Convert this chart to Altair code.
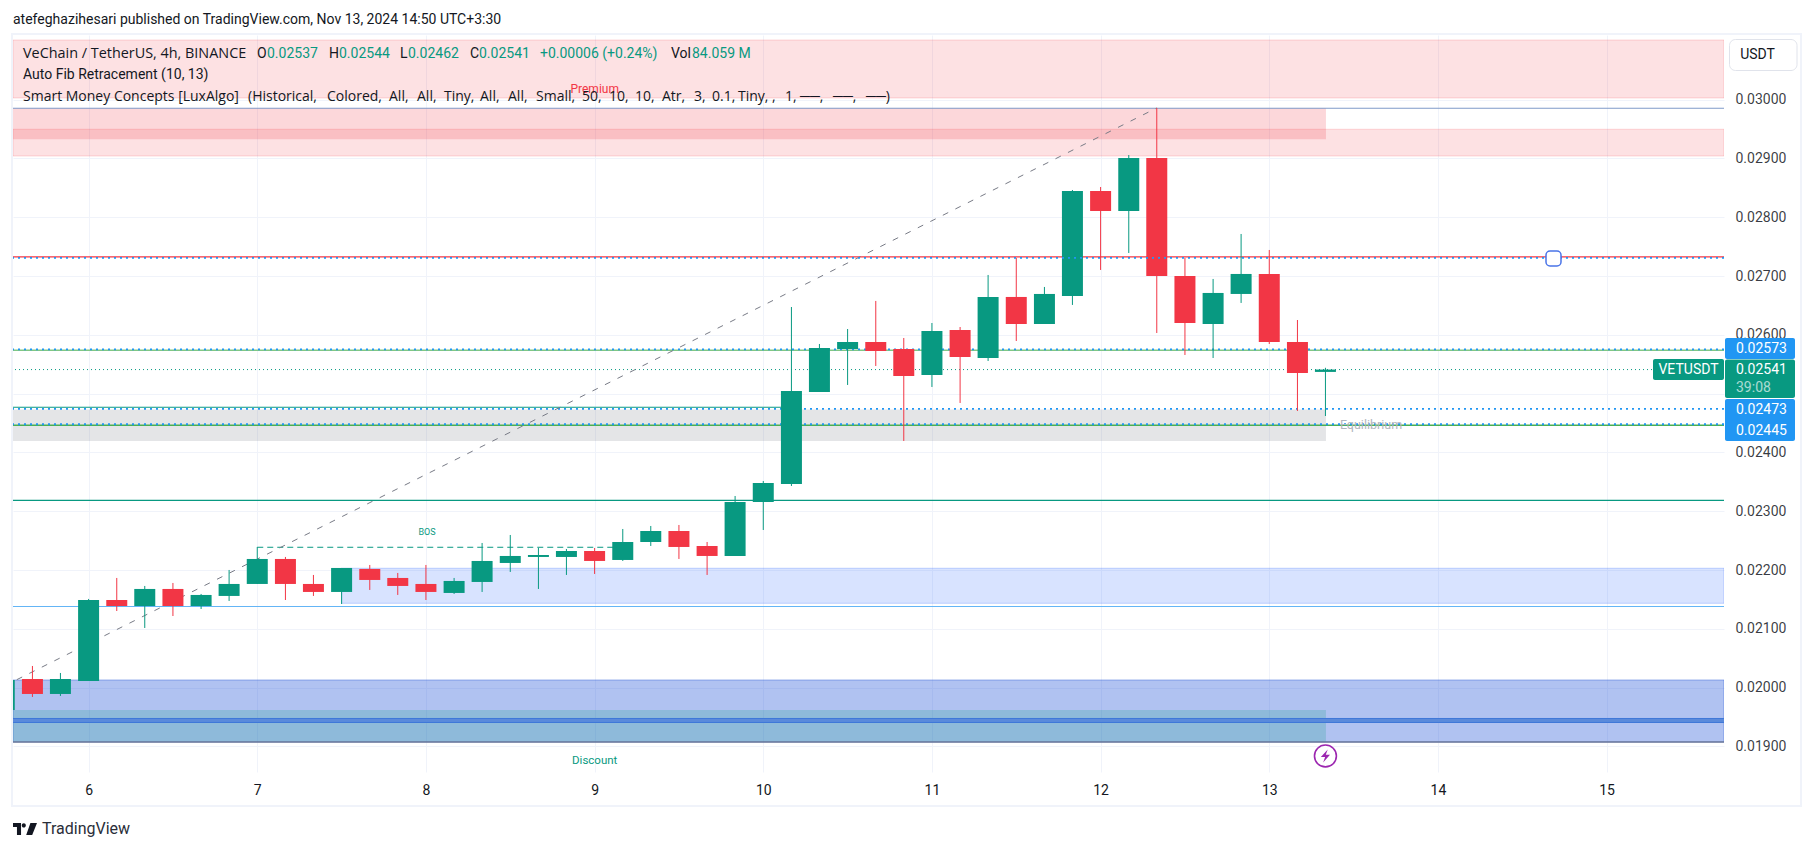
import altair as alt
import pandas as pd

times = [5.5,5.667,5.833,6.0,6.167,6.333,6.5,6.667,6.833,7.0,7.167,7.333,7.5,7.667,7.833,8.0,8.167,8.333,8.5,8.667,8.833,9.0,9.167,9.333,9.5,9.667,9.833,10.0,10.167,10.333,10.5,10.667,10.833,11.0,11.167,11.333,11.5,11.667,11.833,12.0,12.167,12.333,12.5,12.667,12.833,13.0,13.167,13.333]
opens = [.019621,.020148,.019893,.020114,.021491,.021389,.021679,.021389,.02156,.021764,.022189,.021764,.021628,.022019,.021866,.021764,.021611,.021798,.022121,.022223,.022223,.022325,.022172,.022478,.022665,.02241,.02224,.023158,.023464,.025029,.02576,.025879,.02576,.025318,.026083,.025607,.026645,.026185,.026662,.028447,.028107,.029008,.027002,.026185,.026696,.027036,.025879,.02537]
highs = [.020131,.020369,.02025,.021509,.021866,.02173,.021781,.021594,.022002,.022393,.022223,.021917,.022036,.022087,.021951,.022087,.021866,.022461,.022597,.022376,.022359,.022376,.022699,.02275,.022767,.022478,.02326,.023515,.026474,.025845,.0261,.026577,.025947,.026202,.026134,.027019,.027308,.026815,.028464,.028515,.029059,.029859,.027308,.026951,.027716,.027444,.026253,.02544]
lows = [.019621,.019842,.019859,.020114,.021304,.021015,.021219,.021338,.021475,.021764,.021491,.02156,.021423,.021662,.021577,.021491,.021594,.021628,.021968,.021679,.021917,.021934,.022155,.02241,.022189,.021917,.02224,.022682,.02343,.025029,.025148,.025471,.024196,.025114,.024842,.025556,.025896,.026185,.026509,.027104,.027393,.026032,.025658,.025607,.026543,.025845,.024706,.02462]
closes = [.020131,.019893,.020148,.021491,.021389,.021679,.021389,.021577,.021764,.022189,.021764,.021628,.022036,.021832,.02173,.021628,.021815,.022155,.02224,.022257,.022325,.022155,.022478,.022665,.022393,.02224,.023158,.023481,.025046,.025777,.025879,.025726,.025301,.026066,.025624,.026645,.026185,.026696,.028447,.028107,.029008,.027002,.026202,.026713,.027036,.025879,.025352,.02541]

GREEN = "#089981"; RED = "#F23645"; BLUE = "#2196F3"; INK = "#131722"
FONT = "Roboto"; LEGEND_FONT = "Open Sans"
X_MIN, X_MAX = 5.5518, 15.696
Y_MIN, Y_MAX = 0.018566, 0.0311
day_ticks = [6,7,8,9,10,11,12,13,14,15]
price_ticks = [.019,.02,.021,.022,.023,.024,.025,.026,.027,.028,.029,.03]

# box zones: x0, x1, y0, y1, colour, fill opacity, edge opacity
zones = [
    (X_MIN, X_MAX, .030029, .031015, RED, .15, .18),
    (X_MIN, X_MAX, .029042, .029497, RED, .15, .18),
    (X_MIN, 13.336, .029326, .029859, RED, .2, 0),
    (X_MIN, 13.336, .024196, .02473, "#787B86", .2, 0),
    (7.5, X_MAX, .021435, .022031, "#2962FF", .18, .25),
    (X_MIN, X_MAX, .019077, .020131, "#1E50D8", .35, .4),
    (X_MIN, 13.336, .019077, .019621, GREEN, .2, 0),
]
# full-width solid levels: price, colour, width
levels = [(.029854,"#7F9AC9",1.2),(.027325,RED,1.2),(.025738,"#81C784",1.5),(.024463,"#4CAF50",1.5),
          (.023187,GREEN,1.2),(.021381,"#64B5F6",1.2),(.019442,"#5A8ADB",4),(.019476,"#3F78D8",1),(.019408,"#3F78D8",1),(.019077,"#6E7A9A",1.5)]
dotted_under = [.025755,.02474,.02448]
dotted_over = [.027308]
last_close = .02541

# legend line 3: tokens and their left edges in the picture
indicator_args = ["(Historical,","Colored,","All,","All,","Tiny,","All,","All,","Small,","50,","10,","10,","Atr,","3,","0.1,","Tiny,",",","1,","──,","──,","──)"]
indicator_args_x = [248,327,389,417,444,480,508,536,582,609,635,662,694,712,738,772,785,800,833,866]

xs = alt.Scale(domain=[X_MIN,X_MAX], nice=False, zero=False, padding=0)
ys = alt.Scale(domain=[Y_MIN,Y_MAX], nice=False, zero=False, padding=0)
xaxis = alt.Axis(values=day_ticks, format="d", grid=True, gridColor="#F0F3FA", title=None,
        domain=False, ticks=False, labelFont=FONT, labelFontSize=14, labelColor=INK, labelPadding=11, labelFlush=False)
yaxis = alt.Axis(orient="right", values=price_ticks, format=".5f", grid=True, gridColor="#F0F3FA", title=None,
        domain=False, ticks=False, labelFont=FONT, labelFontSize=14, labelColor=INK, labelOpacity=.85, labelPadding=11, labelFlush=False)
X = lambda f="x": alt.X(f"{f}:Q", scale=xs, axis=xaxis)
Y = lambda f="y": alt.Y(f"{f}:Q", scale=ys, axis=yaxis)
one = alt.Data(values=[{"a":1}])
PX = lambda v: alt.value(v-13)
PY = lambda v: alt.value(v-35)

def txt(s, x, y, color=INK, size=14, align="left", weight=400, opacity=1.0, font=FONT):
    return alt.Chart(one).mark_text(text=s, font=font, fontSize=size, color=color, align=align,
        baseline="middle", fontWeight=weight, opacity=opacity).encode(x=PX(x), y=PY(y))

def box(x0, x1, y0, y1, fill, **kw):
    return alt.Chart(one).mark_rect(fill=fill, **kw).encode(x=PX(x0), x2=PX(x1), y=PY(y0), y2=PY(y1))

layers = []
# frame
layers += [box(11,1802,33,35,"#F0F3FA"), box(11,1802,805,807,"#F0F3FA"), box(11,13,33,807,"#F0F3FA"), box(1800,1802,33,807,"#F0F3FA")]
# zones
zdf = pd.DataFrame(zones, columns=["x","x2","y","y2","c","o","e"])
layers.append(alt.Chart(zdf).mark_rect(clip=True, strokeWidth=1).encode(
    x=X("x"), x2="x2:Q", y=Y("y"), y2="y2:Q",
    fill=alt.Fill("c:N", scale=None), stroke=alt.Stroke("c:N", scale=None),
    fillOpacity=alt.FillOpacity("o:Q", scale=None), strokeOpacity=alt.StrokeOpacity("e:Q", scale=None)))
# levels
for p,c,w in levels:
    layers.append(alt.Chart(pd.DataFrame({"y":[p]})).mark_rule(color=c, strokeWidth=w).encode(y=Y()))
# dotted under candles
for p in dotted_under:
    layers.append(alt.Chart(pd.DataFrame({"y":[p]})).mark_rule(color=BLUE, strokeWidth=1.8, strokeDash=[2,4]).encode(y=Y()))
# last price dotted
layers.append(alt.Chart(pd.DataFrame({"y":[last_close]})).mark_rule(color=GREEN, strokeWidth=1, strokeDash=[1,3]).encode(y=Y()))
# CHoCH line, BOS line, fib line
layers.append(alt.Chart(pd.DataFrame({"x":[X_MIN],"x2":[10.167],"y":[.024769]})).mark_rule(color=GREEN, strokeWidth=1.2).encode(x=X(), x2="x2:Q", y=Y()))
layers.append(alt.Chart(pd.DataFrame({"x":[7.0],"x2":[9.167],"y":[.022388]})).mark_rule(color=GREEN, strokeWidth=1, strokeDash=[6,4]).encode(x=X(), x2="x2:Q", y=Y()))
layers.append(alt.Chart(pd.DataFrame({"x":[5.5,12.333],"y":[.020029,.029859]})).mark_line(color="#787B86", strokeWidth=1, strokeDash=[6,8], clip=True).encode(x=X(), y=Y()))
# candles
candles = pd.DataFrame({"x":times,"o":opens,"h":highs,"l":lows,"c":closes})
candles["col"] = [GREEN if c>=o else RED for o,c in zip(opens,closes)]
layers.append(alt.Chart(candles).mark_rule(strokeWidth=1, clip=True).encode(x=X(), y=Y("l"), y2="h:Q", color=alt.Color("col:N", scale=None)))
layers.append(alt.Chart(candles).mark_bar(size=21, clip=True).encode(x=X(), y=Y("o"), y2="c:Q", color=alt.Color("col:N", scale=None)))
# dotted on top
for p in dotted_over:
    layers.append(alt.Chart(pd.DataFrame({"y":[p]})).mark_rule(color=BLUE, strokeWidth=1.8, strokeDash=[2,4]).encode(y=Y()))
# alert handle
layers.append(box(1546,1561,251,266,"#FFFFFF", stroke="#4A74E8", strokeWidth=1.5, cornerRadius=4))
# zone labels
layers += [txt("Premium",594.7,89,RED,12,"center"), txt("Discount",594.7,761,GREEN,11.5,"center"),
           txt("Equilibrium",1371,425,"#B2B5BE",12.5,"center"), txt("BOS",427,532,GREEN,9,"center")]
# lightning marker
bolt = pd.DataFrame({"x":[13.333],"y":[.018839]})
layers.append(alt.Chart(bolt).mark_point(shape="circle", size=480, filled=True, fill="#FFFFFF", stroke="#9C27B0", strokeWidth=1.6, opacity=1).encode(x=X(), y=Y()))
layers.append(alt.Chart(bolt).mark_point(shape="M0.35,-1 L-0.7,0.15 L-0.05,0.15 L-0.35,1 L0.7,-0.2 L0.05,-0.2 Z", size=170, filled=True, color="#9C27B0", opacity=1).encode(x=X(), y=Y()))
# price tags
layers += [box(1725,1795,338,359,BLUE, cornerRadius=2), box(1725,1795,399,441,BLUE, cornerRadius=2),
           box(1725,1795,359.5,398,GREEN, cornerRadius=2), box(1653,1724,359,380,GREEN, cornerRadius=2)]
layers += [txt("0.02573",1736,349,"#FFFFFF"), txt("0.02473",1736,410,"#FFFFFF"), txt("0.02445",1736,431,"#FFFFFF"),
           txt("0.02541",1736,370,"#FFFFFF"), txt("39:08",1736,388,"#FFFFFF",opacity=.65),
           txt("VETUSDT",1688.5,369.5,"#FFFFFF",14,"center")]
# currency button
layers.append(box(1729.5,1797,39.5,70.5,"#FFFFFF", stroke="#E0E3EB", strokeWidth=1, cornerRadius=6))
layers.append(txt("USDT",1757.5,55,INK,14,"center"))
# header
layers.append(txt("atefeghazihesari published on TradingView.com, Nov 13, 2024 14:50 UTC+3:30",13,20))
layers += [txt("VeChain / TetherUS, 4h, BINANCE",23,54,size=14.4,font=LEGEND_FONT),
           txt("O",257,54), txt("0.02537",267,54,GREEN), txt("H",329,54), txt("0.02544",339,54,GREEN),
           txt("L",400,54), txt("0.02462",408,54,GREEN), txt("C",470,54), txt("0.02541",479,54,GREEN),
           txt("+0.00006 (+0.24%)",540,54,GREEN), txt("Vol",671,54), txt("84.059 M",692,54,GREEN),
           txt("Auto Fib Retracement (10, 13)",23,75,size=14),
           txt("Smart Money Concepts [LuxAlgo]",23,97,font=LEGEND_FONT)]
layers += [txt(s,x,97,font=LEGEND_FONT) for s,x in zip(indicator_args, indicator_args_x)]
# footer logo
layers.append(alt.Chart(one).mark_point(shape="M-1,-0.5 H-0.33 V0.5 H-0.67 V-0.17 H-1 Z M-0.27,-0.3 A0.17,0.17 0 1 0 0.07,-0.3 A0.17,0.17 0 1 0 -0.27,-0.3 Z M0.1,0.5 L0.45,-0.5 H1 L0.6,0.5 Z",
    size=576, filled=True, color=INK, opacity=1).encode(x=PX(25), y=PY(829)))
layers.append(txt("TradingView",42,829,"#2A2E39",16))

chart = alt.layer(*layers).properties(
    width=1711, height=737,
    padding={"left":5,"top":27,"right":82,"bottom":71},
    autosize=alt.AutoSizeParams(type="none"),
    background="#FFFFFF",
).configure_view(stroke=None)
chart.save("out.html", embed_options={"renderer":"svg","actions":False})
